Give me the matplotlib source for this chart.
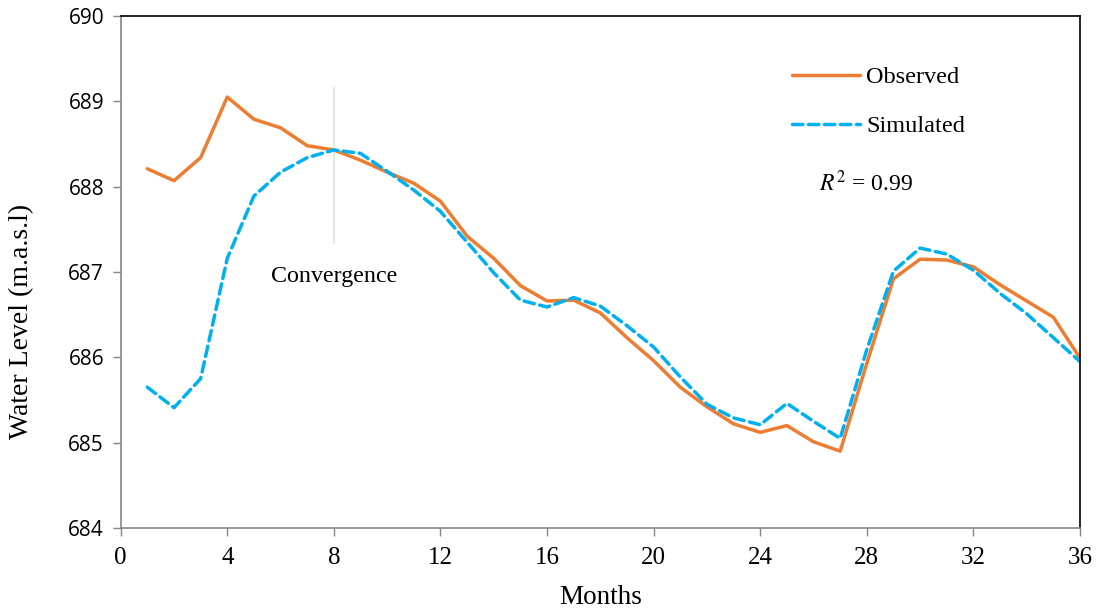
import matplotlib
matplotlib.use("Agg")
import matplotlib.pyplot as plt

months = list(range(1, 37))

observed = [688.21, 688.07, 688.34, 689.05, 688.79, 688.69, 688.48, 688.43, 688.31,
            688.17, 688.04, 687.83, 687.42, 687.16, 686.84, 686.66, 686.67, 686.52,
            686.23, 685.96, 685.65, 685.42, 685.22, 685.12, 685.20, 685.01, 684.90,
            685.93, 686.92, 687.15, 687.14, 687.06, 686.85, 686.66, 686.47, 685.99]

simulated = [685.65, 685.41, 685.75, 687.16, 687.89, 688.17, 688.34, 688.43, 688.39,
             688.18, 687.96, 687.71, 687.35, 686.99, 686.67, 686.59, 686.70, 686.60,
             686.37, 686.12, 685.77, 685.45, 685.29, 685.21, 685.46, 685.25, 685.05,
             686.09, 687.01, 687.28, 687.21, 687.02, 686.75, 686.51, 686.23, 685.95]

x_ticks = list(range(0, 37, 4))
y_ticks = list(range(684, 691))

serif = "Liberation Serif"

fig = plt.figure(figsize=(10.97, 6.13), dpi=100)
ax = fig.add_axes([0.110, 0.1387, 0.8745, 0.8352])

ax.plot(months, observed, color="#ED7D31", lw=2.5, label="Observed", solid_capstyle="round")
ax.plot(months, simulated, color="#00B0F0", lw=2.5, ls=(0, (3.0, 1.6)), label="Simulated",
        dash_capstyle="round")

# convergence marker
ax.plot([8, 8], [687.34, 689.16], color="#dfe6d6", lw=1.2, zorder=0)
ax.text(8, 686.95, "Convergence", family=serif, fontsize=17.3, ha="center", va="center")

ax.set_xlim(0, 36)
ax.set_ylim(684, 690)
ax.set_xticks(x_ticks)
ax.set_yticks(y_ticks)
ax.set_xticklabels([str(t) for t in x_ticks], family=serif, fontsize=18)
ax.set_yticklabels([str(t) for t in y_ticks], family="Open Sans", fontsize=15)
ax.tick_params(axis="both", direction="out", length=6, color="#868686", width=1)
ax.tick_params(axis="x", pad=8)
ax.tick_params(axis="y", pad=6)

for s in ["left", "bottom"]:
    ax.spines[s].set_color("#868686")
    ax.spines[s].set_linewidth(1.2)
for s in ["top", "right"]:
    ax.spines[s].set_color("black")
    ax.spines[s].set_linewidth(1.2)

fig.text(0.5475, 0.026, "Months", family=serif, fontsize=19.5, ha="center", va="center")
fig.text(0.020, 0.475, "Water Level (m.a.s.l)", family=serif, fontsize=20,
         rotation=90, ha="center", va="center")

leg = ax.legend(loc="upper left", bbox_to_anchor=(0.677, 0.945), frameon=False,
                prop={"family": serif, "size": 17.5}, handlelength=2.8,
                handletextpad=0.25, labelspacing=1.12)

ax.text(0.728, 0.673, r"$R^{2}$ = 0.99", transform=ax.transAxes, family=serif,
        fontsize=17, va="center", math_fontfamily="stix")

fig.savefig("out.png", dpi=100)
